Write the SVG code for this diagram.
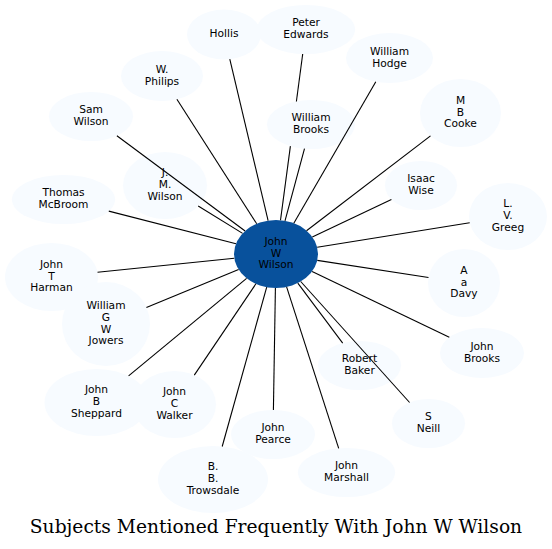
<svg xmlns="http://www.w3.org/2000/svg" width="552" height="549" viewBox="0 0 552 549">
<style>
.n ellipse{fill:#f7fbff;stroke:none}
.c ellipse{fill:#08519c;stroke:none}
text{font-family:"DejaVu Sans","Liberation Sans",sans-serif;font-size:10.67px;fill:#000;text-anchor:middle}
.e line{stroke:#000;stroke-width:1.1}
.t{font-family:"DejaVu Serif","Liberation Serif",serif;font-size:18.67px}
</style>
<rect width="552" height="549" fill="#fff"/>
<g id="nodes">
<g id="hollis" class="n"><ellipse cx="224" cy="34.5" rx="37" ry="25"/><text x="224" y="37.1">Hollis</text></g>
<g id="peter-edwards" class="n"><ellipse cx="306" cy="29.5" rx="49" ry="24.5"/><text x="306" y="26.2">Peter</text><text x="306" y="38">Edwards</text></g>
<g id="william-hodge" class="n"><ellipse cx="389.5" cy="58" rx="43.5" ry="25"/><text x="389.5" y="54.7">William</text><text x="389.5" y="66.5">Hodge</text></g>
<g id="w-philips" class="n"><ellipse cx="162" cy="76" rx="41" ry="25"/><text x="162" y="72.7">W.</text><text x="162" y="84.5">Philips</text></g>
<g id="sam-wilson" class="n"><ellipse cx="91" cy="116.5" rx="42" ry="24.5"/><text x="91" y="113.2">Sam</text><text x="91" y="125">Wilson</text></g>
<g id="m-b-cooke" class="n"><ellipse cx="460.5" cy="113" rx="40.5" ry="34"/><text x="460.5" y="103.8">M</text><text x="460.5" y="115.6">B</text><text x="460.5" y="127.4">Cooke</text></g>
<g id="j-m-wilson" class="n"><ellipse cx="165" cy="185.5" rx="42" ry="33.5"/><text x="165" y="176.3">J.</text><text x="165" y="188.1">M.</text><text x="165" y="199.9">Wilson</text></g>
<g id="isaac-wise" class="n"><ellipse cx="421" cy="185.5" rx="36" ry="24.5"/><text x="421" y="182.2">Isaac</text><text x="421" y="194">Wise</text></g>
<g id="thomas-mcbroom" class="n"><ellipse cx="63.5" cy="199.5" rx="51.5" ry="24.5"/><text x="63.5" y="196.2">Thomas</text><text x="63.5" y="208">McBroom</text></g>
<g id="l-v-greeg" class="n"><ellipse cx="508" cy="216.5" rx="39" ry="33.5"/><text x="508" y="207.3">L.</text><text x="508" y="219.1">V.</text><text x="508" y="230.9">Greeg</text></g>
<g id="john-t-harman" class="n"><ellipse cx="51.5" cy="277" rx="46.5" ry="34"/><text x="51.5" y="267.8">John</text><text x="51.5" y="279.6">T</text><text x="51.5" y="291.4">Harman</text></g>
<g id="william-g-w-jowers" class="n"><ellipse cx="106" cy="324" rx="44" ry="42"/><text x="106" y="308.9">William</text><text x="106" y="320.7">G</text><text x="106" y="332.5">W</text><text x="106" y="344.3">Jowers</text></g>
<g id="a-a-davy" class="n"><ellipse cx="464" cy="283" rx="36" ry="34"/><text x="464" y="273.8">A</text><text x="464" y="285.6">a</text><text x="464" y="297.4">Davy</text></g>
<g id="john-brooks" class="n"><ellipse cx="482" cy="353" rx="42" ry="25"/><text x="482" y="349.7">John</text><text x="482" y="361.5">Brooks</text></g>
<g id="robert-baker" class="n"><ellipse cx="359.5" cy="365.5" rx="41.5" ry="24.5"/><text x="359.5" y="362.2">Robert</text><text x="359.5" y="374">Baker</text></g>
<g id="john-b-sheppard" class="n"><ellipse cx="96.5" cy="402.5" rx="52" ry="33.5"/><text x="96.5" y="393.3">John</text><text x="96.5" y="405.1">B</text><text x="96.5" y="416.9">Sheppard</text></g>
<g id="john-c-walker" class="n"><ellipse cx="174.5" cy="404.5" rx="41.5" ry="33.5"/><text x="174.5" y="395.3">John</text><text x="174.5" y="407.1">C</text><text x="174.5" y="418.9">Walker</text></g>
<g id="s-neill" class="n"><ellipse cx="428.5" cy="423.5" rx="36.5" ry="24.5"/><text x="428.5" y="420.2">S</text><text x="428.5" y="432">Neill</text></g>
<g id="john-pearce" class="n"><ellipse cx="273" cy="434.5" rx="42" ry="24.5"/><text x="273" y="431.2">John</text><text x="273" y="443">Pearce</text></g>
<g id="john-marshall" class="n"><ellipse cx="346.5" cy="472.5" rx="48.5" ry="24.5"/><text x="346.5" y="469.2">John</text><text x="346.5" y="481">Marshall</text></g>
<g id="b-b-trowsdale" class="n"><ellipse cx="213" cy="479.5" rx="55" ry="33.5"/><text x="213" y="470.3">B.</text><text x="213" y="482.1">B.</text><text x="213" y="493.9">Trowsdale</text></g>
<g id="william-brooks" class="n"><ellipse cx="311" cy="124.5" rx="44" ry="24.5"/><text x="311" y="121.2">William</text><text x="311" y="133">Brooks</text></g>
<g id="john-w-wilson" class="c"><ellipse cx="276" cy="254" rx="42" ry="34"/><text x="276" y="244.8">John</text><text x="276" y="256.6">W</text><text x="276" y="268.4">Wilson</text></g>
</g>
<g id="connectors" class="e">
<line x1="268.1" y1="220.6" x2="229.8" y2="59.2"/>
<line x1="302.7" y1="54" x2="296.4" y2="101.5"/>
<line x1="290.4" y1="146.1" x2="280.5" y2="220.2"/>
<line x1="285" y1="220.8" x2="304.5" y2="148.7"/>
<line x1="256.7" y1="223.8" x2="176.9" y2="99.3"/>
<line x1="245.1" y1="231" x2="116.9" y2="135.8"/>
<line x1="242.6" y1="233.4" x2="198.2" y2="206"/>
<line x1="236" y1="243.7" x2="108.8" y2="211.1"/>
<line x1="234.3" y1="258.3" x2="97.5" y2="272.3"/>
<line x1="238.6" y1="269.4" x2="146.4" y2="307.4"/>
<line x1="246.6" y1="278.3" x2="128.6" y2="375.8"/>
<line x1="255.9" y1="283.8" x2="194.3" y2="375.1"/>
<line x1="266.7" y1="287.2" x2="222.2" y2="446.5"/>
<line x1="275.4" y1="288" x2="273.4" y2="410"/>
<line x1="286.6" y1="286.9" x2="338.7" y2="448.3"/>
<line x1="297.8" y1="283.1" x2="342.7" y2="343.1"/>
<line x1="300.7" y1="281.5" x2="409.6" y2="402.5"/>
<line x1="312.1" y1="271.4" x2="449.3" y2="337.3"/>
<line x1="317.3" y1="260.4" x2="428.5" y2="277.5"/>
<line x1="317.2" y1="247.3" x2="469.7" y2="222.7"/>
<line x1="312.3" y1="236.9" x2="391.4" y2="199.5"/>
<line x1="306.5" y1="230.7" x2="430.5" y2="135.9"/>
<line x1="293.8" y1="223.2" x2="375.8" y2="81.7"/>
</g>
<text class="t" x="276" y="533">Subjects Mentioned Frequently With John W Wilson</text>
</svg>
